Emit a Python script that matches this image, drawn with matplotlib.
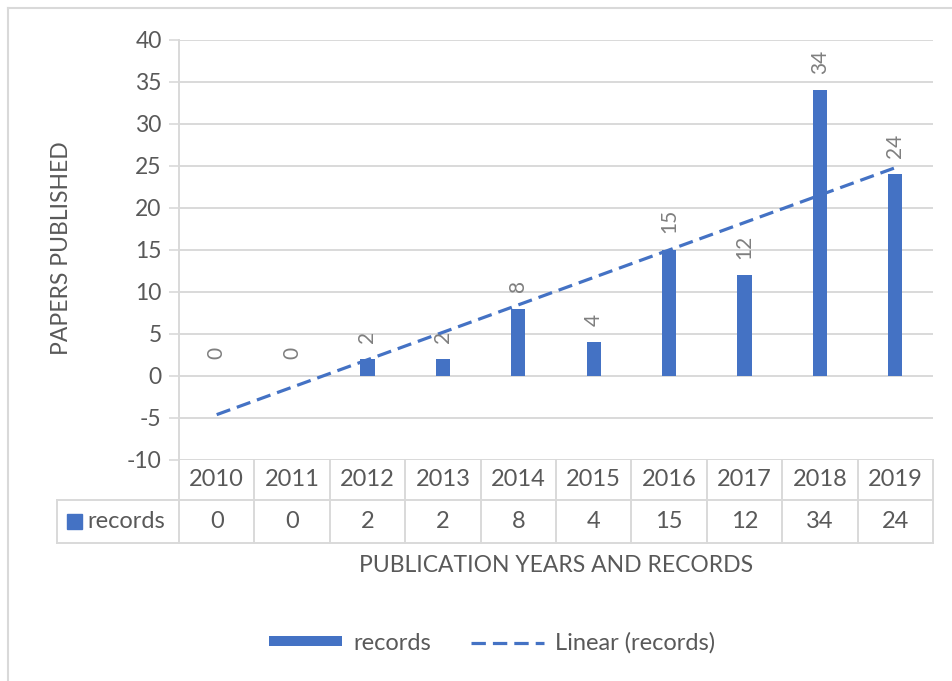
import numpy as np
import matplotlib
matplotlib.use("Agg")
import matplotlib.pyplot as plt
from matplotlib.transforms import blended_transform_factory
from matplotlib.lines import Line2D

plt.rcParams['font.family'] = ['Lato', 'DejaVu Sans']

# --- data ---
years = ['2010', '2011', '2012', '2013', '2014', '2015', '2016', '2017', '2018', '2019']
records = [0, 0, 2, 2, 8, 4, 15, 12, 34, 24]
series_name = 'records'
trend_name = 'Linear (records)'
y_label = 'PAPERS PUBLISHED'
x_label = 'PUBLICATION YEARS AND RECORDS'
y_ticks = [-10, -5, 0, 5, 10, 15, 20, 25, 30, 35, 40]

BLUE = '#4472C4'
GRID = '#D9D9D9'
TXT = '#595959'
LBL = '#7F7F7F'

W, H = 953, 681
fig = plt.figure(figsize=(W / 100, H / 100), dpi=100)
fig.patch.set_facecolor('white')

# plot area in pixel terms
L, R, T, B = 179, 933, 40, 460
ax = fig.add_axes([L / W, 1 - B / H, (R - L) / W, (B - T) / H])
ax.set_facecolor('white')

x = np.arange(len(years))
bars = ax.bar(x, records, width=0.19, color=BLUE, zorder=3, label=series_name)

# linear trendline
slope, intercept = np.polyfit(x + 1, records, 1)
trend = slope * (x + 1) + intercept
trend_line, = ax.plot(x, trend, color=BLUE, lw=2.3, linestyle=(0, (4.5, 2.2)),
                      zorder=4, label=trend_name)

# rotated value labels above bars
for xi, v in zip(x, records):
    ax.annotate(str(v), (xi, v), xytext=(0, 12), textcoords='offset points',
                rotation=90, ha='center', va='bottom', color=LBL, fontsize=15,
                zorder=5)

ax.set_xlim(-0.5, len(years) - 0.5)
ax.set_ylim(-10, 40)
ax.set_yticks(y_ticks)
ax.set_yticklabels([str(t) for t in y_ticks])
ax.tick_params(axis='y', length=7.5, width=1.2, color=GRID, labelcolor=TXT,
               labelsize=16.5, pad=5)
ax.set_xticks([])
ax.grid(axis='y', color=GRID, lw=1.4, zorder=0)
for s in ['top', 'right', 'bottom']:
    ax.spines[s].set_visible(False)
ax.spines['left'].set_color(GRID)
ax.spines['left'].set_linewidth(1.4)

# data table under the axis
trans = blended_transform_factory(ax.transData, ax.transAxes)
ph = (B - T)
row1 = -(500 - B) / ph
row2 = -(543 - B) / ph
colw = (R - L) / len(years)
hdr_left = -0.5 - (L - 57) / colw
tl = dict(color=GRID, lw=1.4, transform=trans, clip_on=False)
n = len(years)
ax.add_line(Line2D([hdr_left, n - 0.5], [row1, row1], **tl))
ax.add_line(Line2D([hdr_left, n - 0.5], [row2, row2], **tl))
ax.add_line(Line2D([hdr_left, hdr_left], [row1, row2], **tl))
for i in range(n + 1):
    ax.add_line(Line2D([i - 0.5, i - 0.5], [0, row2], **tl))
for xi, yr, v in zip(x, years, records):
    ax.text(xi, row1 / 2, yr, transform=trans, ha='center', va='center',
            color=TXT, fontsize=17)
    ax.text(xi, (row1 + row2) / 2, str(v), transform=trans, ha='center',
            va='center', color=TXT, fontsize=17)
# header cell: legend key + series name
key_x = hdr_left + (67 - 57) / colw
key_w = 15 / colw
key_y = -(529 - B) / ph
ax.add_patch(plt.Rectangle((key_x, key_y), key_w, 15 / ph, transform=trans,
                           color=BLUE, clip_on=False))
ax.text(key_x + key_w + 5 / colw, (row1 + row2) / 2, series_name,
        transform=trans, ha='left', va='center', color=TXT, fontsize=17)

# axis titles
fig.text(62 / W, 1 - 248 / H, y_label, rotation=90, ha='center', va='center',
         color=TXT, fontsize=16.5)
fig.text(556 / W, 1 - 566 / H, x_label, ha='center', va='center',
         color=TXT, fontsize=16.5)

# legend
leg = fig.legend(handles=[bars, trend_line], loc='center',
                 bbox_to_anchor=(492 / W, 1 - 643 / H), ncol=2, frameon=False,
                 fontsize=17, handlelength=3.1, handleheight=0.28,
                 handletextpad=0.45, columnspacing=1.7)
for t in leg.get_texts():
    t.set_color(TXT)

# chart frame edges
fig.add_artist(Line2D([8 / W, 1], [1 - 8 / H, 1 - 8 / H], color=GRID, lw=1.5,
                      transform=fig.transFigure))
fig.add_artist(Line2D([8 / W, 8 / W], [0, 1 - 8 / H], color=GRID, lw=1.5,
                      transform=fig.transFigure))

fig.savefig('out.png', dpi=100, facecolor='white')
